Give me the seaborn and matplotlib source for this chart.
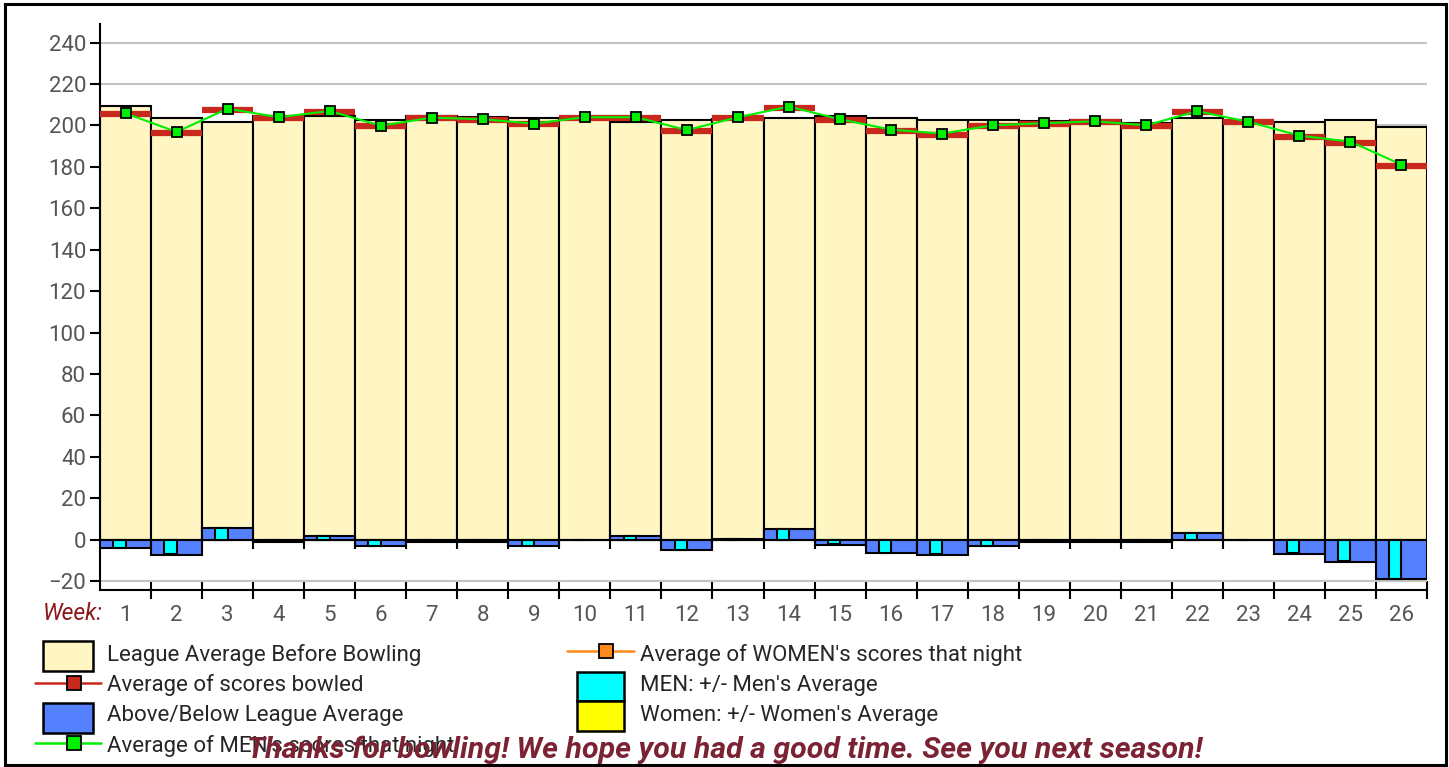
import numpy as np
import pandas as pd
import matplotlib.pyplot as plt
import seaborn as sns
from matplotlib.patches import Rectangle
from matplotlib.lines import Line2D

# values
weeks = [str(i) for i in range(1, 27)]
league_avg = [209.5, 203.5, 201.5, 204.6, 204.6, 202.5, 204.6, 203.9, 203.5, 203.8,
              201.8, 202.5, 203.0, 203.5, 204.7, 203.5, 202.6, 202.7, 202.0, 202.8,
              201.0, 203.4, 201.5, 201.5, 202.5, 199.4]
above_below = [-4.0, -7.2, 5.8, -1.1, 1.8, -3.1, -1.1, -1.1, -3.1, -0.3,
               1.6, -5.2, 0.5, 5.0, -2.4, -6.3, -7.2, -3.2, -1.1, -1.1,
               -1.1, 3.2, -0.1, -6.9, -10.8, -18.8]
men_pm = [-3.8, -7.0, 5.8, -0.8, 1.8, -2.9, -0.8, -0.8, -2.9, -0.3,
          1.6, -5.2, 0.4, 5.0, -2.2, -6.2, -7.0, -3.0, -0.8, -0.8,
          -0.8, 3.1, -0.2, -6.6, -10.5, -18.8]
women_pm = [np.nan] * 26
avg_scores = [205.6, 196.5, 207.5, 203.6, 206.5, 199.6, 203.6, 202.8, 200.7, 203.5,
              203.5, 197.5, 203.5, 208.5, 202.5, 197.5, 195.6, 199.6, 200.7, 201.8,
              199.6, 206.5, 201.5, 194.6, 191.6, 180.5]
men_avg = [205.9, 196.9, 208.1, 204.0, 207.0, 199.9, 203.8, 203.0, 200.9, 204.0,
           204.0, 197.8, 204.0, 209.1, 203.0, 198.0, 196.1, 200.1, 201.1, 202.0,
           200.1, 206.9, 201.8, 195.1, 192.2, 181.1]

legend_labels = ["League Average Before Bowling", "Average of scores bowled",
                 "Above/Below League Average", "Average of MEN's scores that night",
                 "Average of WOMEN's scores that night", "MEN: +/- Men's Average",
                 "Women: +/- Women's Average"]

YELLOW = "#fff6c4"
BLUE = "#5580ff"
CYAN = "#00ffff"
WYELLOW = "#ffff00"
RED = "#c9281c"
GREEN = "#00ee00"
ORANGE = "#ff8a1c"
GRAY = "#555555"
MAROON = "#7b2233"

sns.set_style("white")
plt.rcParams["font.family"] = ["Roboto", "DejaVu Sans"]

W, H = 1449, 767
fig = plt.figure(figsize=(W / 100, H / 100), dpi=100)
ax = fig.add_axes([100 / W, 177 / H, 1327 / W, 566 / H])

pos = np.arange(len(weeks))

sns.barplot(x=weeks, y=league_avg, order=weeks, color=YELLOW, saturation=1,
            width=1.0, edgecolor="black", linewidth=1.5, errorbar=None,
            zorder=2, ax=ax)
sns.barplot(x=weeks, y=above_below, order=weeks, color=BLUE, saturation=1,
            width=1.0, edgecolor="black", linewidth=1.5, errorbar=None,
            zorder=3, ax=ax)

mw = pd.DataFrame({
    "week": weeks * 2,
    "value": men_pm + women_pm,
    "group": ["MEN"] * 26 + ["Women"] * 26,
})
sns.barplot(data=mw, x="week", y="value", hue="group", order=weeks,
            hue_order=["MEN", "Women"], palette={"MEN": CYAN, "Women": WYELLOW},
            saturation=1, width=0.48, edgecolor="black", linewidth=1.5,
            errorbar=None, legend=False, zorder=4, ax=ax)

# average of scores bowled: thick red dash across each week
ax.hlines(avg_scores, pos - 0.5, pos + 0.5, color=RED, lw=4.5, zorder=5)

sns.lineplot(x=pos, y=men_avg, color=GREEN, lw=1.5, marker="s", markersize=7,
             markerfacecolor=GREEN, markeredgecolor="black", markeredgewidth=1.3,
             zorder=6, ax=ax)

# small ticks under the zero line
ax.vlines(pos[:-1] + 0.5, -4.3, 0, color="black", lw=1.5, zorder=3)

ax.set_xlim(-0.5, 25.5)
ax.set_ylim(-24.3, 249)
ax.set_yticks(np.arange(-20, 241, 20))
ax.set_xticks(pos)
ax.set_xticklabels(weeks)
ax.set_xticks(pos + 0.5, minor=True)
ax.set_xlabel("")
ax.set_ylabel("")
ax.set_axisbelow(True)
ax.yaxis.grid(True, color="#c4c4c4", lw=1.5)
ax.xaxis.grid(False)

for s in ["top", "right"]:
    ax.spines[s].set_visible(False)
for s in ["left", "bottom"]:
    ax.spines[s].set_color("black")
    ax.spines[s].set_linewidth(1.5)

ax.tick_params(axis="y", which="major", direction="out", length=7, width=1.5,
               color="black", labelcolor=GRAY, labelsize=16, pad=3, left=True)
ax.tick_params(axis="x", which="major", length=0, labelcolor=GRAY,
               labelsize=16, pad=11)
ax.tick_params(axis="x", which="minor", direction="inout", length=13,
               width=1.5, color="black", bottom=True)

# overlay in pixel coordinates for the legend, border and footer
ov = fig.add_axes([0, 0, 1, 1], zorder=10)
ov.set_xlim(0, W)
ov.set_ylim(H, 0)
ov.axis("off")
ov.patch.set_visible(False)

ov.add_patch(Rectangle((5, 4), 1441, 761, fill=False, ec="black", lw=2.2))

ov.text(103, 614, "Week:", ha="right", va="center", style="italic",
        color="#8b1a1a", fontsize=16.5)


def swatch(x, y, w, h, color):
    ov.add_patch(Rectangle((x, y), w, h, fc=color, ec="black", lw=1.8))


def line_handle(x0, x1, xm, y, color):
    ov.add_line(Line2D([x0, x1], [y, y], color=color, lw=1.8))
    ov.add_line(Line2D([xm], [y], marker="s", markersize=9.5, markerfacecolor=color,
                       markeredgecolor="black", markeredgewidth=1.3))


lfs = 16
swatch(43, 641, 50, 30, YELLOW)
ov.text(107, 655, legend_labels[0], va="center", fontsize=lfs)
line_handle(35, 101, 74, 683, RED)
ov.text(107, 685, legend_labels[1], va="center", fontsize=lfs)
swatch(43, 703, 50, 30, BLUE)
ov.text(107, 715, legend_labels[2], va="center", fontsize=lfs)
line_handle(35, 101, 74, 743, GREEN)
ov.text(107, 746, legend_labels[3], va="center", fontsize=lfs)

line_handle(567, 634, 606, 651, ORANGE)
ov.text(640, 655, legend_labels[4], va="center", fontsize=lfs)
swatch(577, 672, 47, 29, CYAN)
ov.text(640, 685, legend_labels[5], va="center", fontsize=lfs)
swatch(577, 701, 47, 30, WYELLOW)
ov.text(640, 715, legend_labels[6], va="center", fontsize=lfs)

ov.text(725, 750, "Thanks for bowling! We hope you had a good time. See you next season!",
        ha="center", va="center", fontsize=21.8, fontweight="bold", style="italic",
        color=MAROON)

fig.savefig("out.png", dpi=100)
